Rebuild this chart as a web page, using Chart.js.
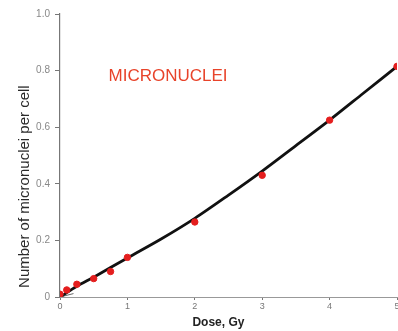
<!DOCTYPE html>
<html>
<head>
<meta charset="utf-8">
<script src="https://cdn.jsdelivr.net/npm/chart.js@4"></script>
<style>
  html, body { margin: 0; padding: 0; background: #fff; overflow: hidden; width: 398px; height: 331px; }
  #wrap { width: 402px; height: 331px; }
</style>
</head>
<body>
<div id="wrap"><canvas id="doseChart"></canvas></div>
<script>
// Measured points (dose in Gy, micronuclei per cell)
const doses = [0, 0.1, 0.25, 0.5, 0.75, 1, 2, 3, 4, 5];
const yields = [0.01, 0.025, 0.045, 0.065, 0.09, 0.14, 0.265, 0.43, 0.625, 0.815];

// Fitted curve
const fitDoses = [0, 0.25, 0.5, 1, 1.5, 2, 2.5, 3, 3.5, 4, 4.5, 5];
const fitYields = [0, 0.038, 0.07, 0.138, 0.205, 0.278, 0.36, 0.445, 0.535, 0.625, 0.72, 0.815];

// Faint low-dose branch near the origin
const branchDoses = [0, 0.2];
const branchYields = [0, 0.012];

const xTicks = [0, 1, 2, 3, 4, 5];
const yTicks = [0, 0.2, 0.4, 0.6, 0.8, 1.0];

const toPoints = (xs, ys) => xs.map((x, i) => ({ x: x, y: ys[i] }));

// Extra labels: axis titles and the red in-plot caption
const labelPlugin = {
  id: "labels",
  afterDraw(chart) {
    const { ctx, scales } = chart;
    ctx.save();
    ctx.fillStyle = "#e8432a";
    ctx.font = "17px 'Liberation Sans', Arial, sans-serif";
    ctx.textBaseline = "middle";
    ctx.textAlign = "left";
    ctx.fillText("MICRONUCLEI", scales.x.getPixelForValue(0.72), scales.y.getPixelForValue(0.78));

    ctx.fillStyle = "#222";
    ctx.font = "bold 12px 'Liberation Sans', Arial, sans-serif";
    ctx.textAlign = "center";
    ctx.fillText("Dose, Gy", scales.x.getPixelForValue(2.35), 323);

    ctx.fillStyle = "#2a2a2a";
    ctx.font = "15px 'Liberation Sans', Arial, sans-serif";
    ctx.translate(25, scales.y.getPixelForValue(0.39));
    ctx.rotate(-Math.PI / 2);
    ctx.fillText("Number of micronuclei per cell", 0, 0);
    ctx.restore();
  },
};

const ctx = document.getElementById("doseChart").getContext("2d");
const doseChart = new Chart(ctx, {
  type: "scatter",
  data: {
    datasets: [
      {
        label: "fit",
        data: toPoints(fitDoses, fitYields),
        showLine: true,
        borderColor: "#111",
        borderWidth: 2.8,
        pointRadius: 0,
        tension: 0.3,
        order: 2,
      },
      {
        label: "branch",
        data: toPoints(branchDoses, branchYields),
        showLine: true,
        borderColor: "#666",
        borderWidth: 1,
        pointRadius: 0,
        order: 3,
      },
      {
        label: "measured",
        data: toPoints(doses, yields),
        backgroundColor: "#e41e1e",
        borderColor: "#e41e1e",
        pointRadius: 3.2,
        order: 1,
      },
    ],
  },
  options: {
    responsive: true,
    maintainAspectRatio: false,
    animation: false,
    layout: { padding: { top: 14, right: 0, left: 0, bottom: 0 } },
    plugins: {
      legend: { display: false },
      tooltip: { enabled: false },
    },
    scales: {
      x: {
        type: "linear",
        min: 0,
        max: 5,
        afterBuildTicks: (scale) => { scale.ticks = xTicks.map((v) => ({ value: v })); },
        afterFit: (scale) => { scale.height = 34; },
        border: { color: "#999", width: 1 },
        grid: { display: true, drawOnChartArea: false, drawTicks: true, tickLength: 3, color: "#777" },
        ticks: {
          color: "#777",
          font: { size: 9, family: "'Liberation Sans', Arial, sans-serif" },
          padding: 1,
          maxRotation: 0,
        },
      },
      y: {
        type: "linear",
        min: 0,
        max: 1.0,
        afterBuildTicks: (scale) => { scale.ticks = yTicks.map((v) => ({ value: v })); },
        afterFit: (scale) => { scale.width = 60; },
        border: { color: "#777", width: 1.2 },
        grid: { display: true, drawOnChartArea: false, drawTicks: true, tickLength: 5, color: "#777" },
        ticks: {
          color: "#888",
          font: { size: 10, family: "'Liberation Sans', Arial, sans-serif" },
          padding: 5,
          callback: (v) => (v === 0 ? "0" : v.toFixed(1)),
        },
      },
    },
  },
  plugins: [labelPlugin],
});
</script>
</body>
</html>
